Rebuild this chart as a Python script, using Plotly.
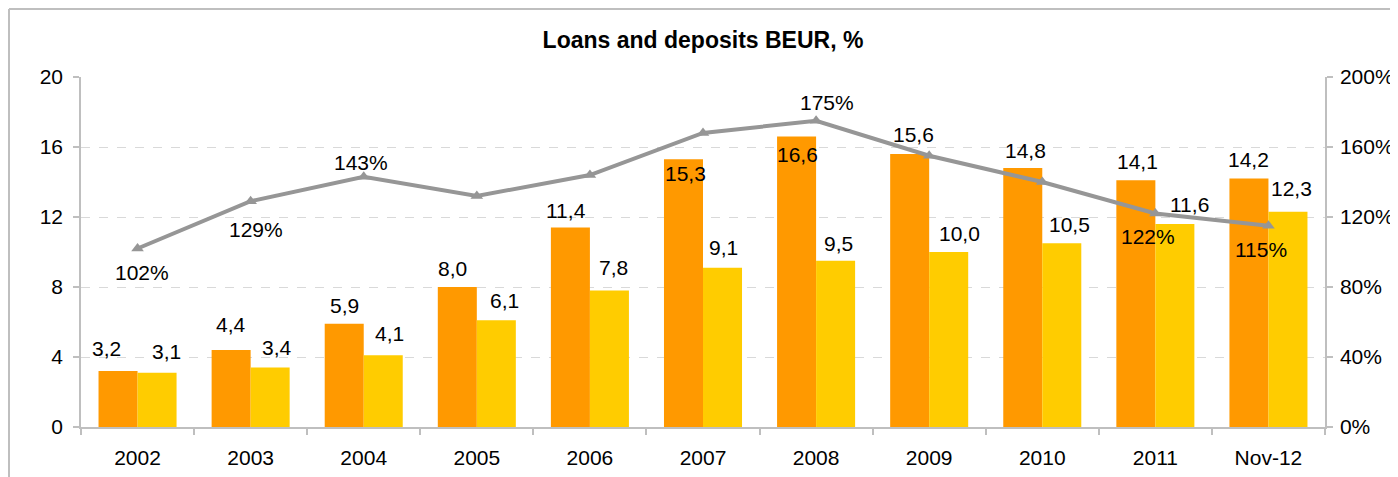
import plotly.graph_objects as go

categories = ["2002", "2003", "2004", "2005", "2006", "2007", "2008", "2009", "2010", "2011", "Nov-12"]
loans = [3.2, 4.4, 5.9, 8.0, 11.4, 15.3, 16.6, 15.6, 14.8, 14.1, 14.2]
deposits = [3.1, 3.4, 4.1, 6.1, 7.8, 9.1, 9.5, 10.0, 10.5, 11.6, 12.3]
ratio = [102, 129, 143, 132, 144, 168, 175, 155, 140, 122, 115]
ratio_label_shown = [True, True, True, False, False, False, True, False, False, True, True]
left_ticks = [0, 4, 8, 12, 16, 20]
right_ticks = [0, 40, 80, 120, 160, 200]

# label nudges (pixels): (dx, dy) relative to default position above bar
loan_nudge = [(-12, 4), (0, 7), (0, -1), (-5, 0), (-4, -2), (2, -33), (1, -37), (4, 1), (3, -1), (2, 0), (0, 0)]
dep_nudge = [(9, 2), (7, 1), (6, 3), (8, 1), (4, 4), (1, 1), (3, -2), (11, 0), (8, 0), (15, 1), (4, 4)]
ratio_nudge = [(4, -24), (5, -28), (-3, 14), (0, 0), (0, 0), (0, 0), (11, 18), (0, 0), (0, 0), (-7, -23), (-7, -24)]

ORANGE = "#FF9900"
YELLOW = "#FFCC00"
GRAY = "#969696"
AXIS = "#BFBFBF"
FONT = "Liberation Sans"
FS = 21

fig = go.Figure()
fig.add_trace(go.Bar(x=categories, y=loans, marker_color=ORANGE, marker_line_width=0, name="Loans"))
fig.add_trace(go.Bar(x=categories, y=deposits, marker_color=YELLOW, marker_line_width=0, name="Deposits"))
fig.add_trace(go.Scatter(x=categories, y=ratio, yaxis="y2", mode="lines+markers",
                         line=dict(color=GRAY, width=4),
                         marker=dict(symbol="triangle-up", size=11, color=GRAY),
                         name="Ratio"))

def fmt(v):
    return f"{v:.1f}".replace(".", ",")

annotations = []
half_bar = 19.5
for i, c in enumerate(categories):
    dx, dy = loan_nudge[i]
    annotations.append(dict(x=i, y=loans[i], xref="x", yref="y", text=fmt(loans[i]),
                            showarrow=False, xshift=-half_bar + dx, yshift=19 + dy,
                            font=dict(family=FONT, size=FS, color="black")))
    dx, dy = dep_nudge[i]
    annotations.append(dict(x=i, y=deposits[i], xref="x", yref="y", text=fmt(deposits[i]),
                            showarrow=False, xshift=half_bar + dx, yshift=19 + dy,
                            font=dict(family=FONT, size=FS, color="black")))
    if ratio_label_shown[i]:
        dx, dy = ratio_nudge[i]
        annotations.append(dict(x=i, y=ratio[i], xref="x", yref="y2", text=f"{ratio[i]}%",
                                showarrow=False, xshift=dx, yshift=dy,
                                font=dict(family=FONT, size=FS, color="black")))

# page has an 8px body margin; compensate so the plot area lands at x 81-1325, y 77-427
OFF = 8
W, H = 1398 - OFF, 477 - OFF
pl, pr, pt, pb = 81 - OFF, 73, 77 - OFF, 50
pw, ph = W - pl - pr, H - pt - pb
bx = (9 - OFF - pl) / pw
by = (H - pb - (8 - OFF) - 1) / ph
shapes = [
    dict(type="line", xref="paper", yref="paper", x0=bx, x1=1.2, y0=by, y1=by,
         line=dict(color=AXIS, width=2)),
    dict(type="line", xref="paper", yref="paper", x0=bx, x1=bx, y0=by, y1=-0.3,
         line=dict(color=AXIS, width=2)),
]

fig.update_layout(
    width=W, height=H,
    margin=dict(l=pl, r=pr, t=pt, b=pb, autoexpand=False),
    paper_bgcolor="white", plot_bgcolor="white",
    barmode="group", bargap=0.31, bargroupgap=0,
    showlegend=False,
    font=dict(family=FONT, size=FS, color="black"),
    title=dict(text="<b>Loans and deposits BEUR, %</b>", x=0.5, xref="paper",
               y=1 - (40 - OFF) / H, yref="container", yanchor="middle", xanchor="center",
               font=dict(family=FONT, size=23, color="black")),
    xaxis=dict(type="category", range=[-0.5, len(categories) - 0.5], autorange=False,
               showline=True, linecolor=AXIS, linewidth=1.5,
               ticks="outside", tickson="boundaries", ticklen=6, tickcolor=AXIS,
               tickwidth=1.5, ticklabelstandoff=11, showgrid=False, tickangle=0,
               tickfont=dict(family=FONT, size=FS, color="black")),
    yaxis=dict(range=[0, 20], autorange=False, tickvals=left_ticks, showline=True,
               linecolor=AXIS, linewidth=1.5,
               ticks="outside", ticklen=6, tickcolor=AXIS, tickwidth=1.5,
               showgrid=True, gridcolor="#D9D9D9", griddash="dash", gridwidth=1.2,
               zeroline=False, ticklabelstandoff=6,
               tickfont=dict(family=FONT, size=FS, color="black")),
    yaxis2=dict(range=[0, 200], autorange=False, tickvals=right_ticks,
                ticktext=[f"{t}%" for t in right_ticks],
                overlaying="y", side="right", showline=True, linecolor=AXIS, linewidth=1.5,
                ticks="outside", ticklen=6, tickcolor=AXIS, tickwidth=1.5,
                showgrid=False, zeroline=False, ticklabelstandoff=3,
                tickfont=dict(family=FONT, size=FS, color="black")),
    annotations=annotations,
    shapes=shapes,
)

fig.write_html("out.html")
